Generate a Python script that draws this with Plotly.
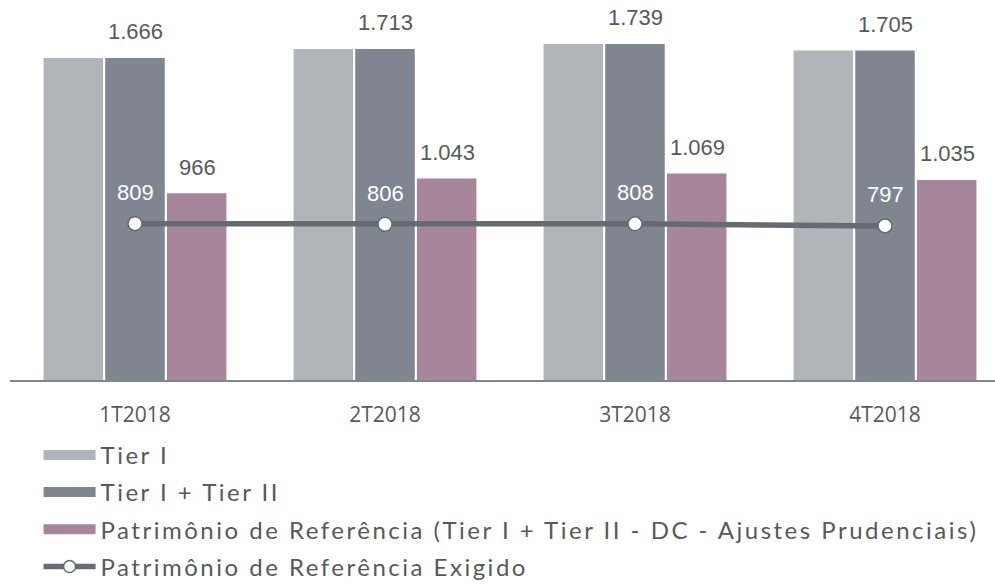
import plotly.graph_objs as go

# Dados (R$ milhões)
trimestres = ['1T2018', '2T2018', '3T2018', '4T2018']
tier1 = [1666, 1713, 1739, 1705]
tier1_tier2 = [1666, 1713, 1739, 1705]
pr = [966, 1043, 1069, 1035]
pr_exigido = [809, 806, 808, 797]

nomes = ['Tier I',
         'Tier I + Tier II',
         'Patrimônio de Referência (Tier I + Tier II - DC - Ajustes Prudenciais)',
         'Patrimônio de Referência Exigido']
cores = ['#B1B5B9', '#7F868F', '#A7869C', '#646B72']

label_font = dict(family='Liberation Sans, Arial', size=22, color='#595959')

fig = go.Figure()
fig.add_trace(go.Bar(x=trimestres, y=tier1, name=nomes[0], showlegend=False,
                     marker=dict(color=cores[0], line=dict(width=0))))
fig.add_trace(go.Bar(x=trimestres, y=tier1_tier2, name=nomes[1], showlegend=False,
                     marker=dict(color=cores[1], line=dict(width=0))))
fig.add_trace(go.Bar(x=trimestres, y=pr, name=nomes[2], showlegend=False,
                     marker=dict(color=cores[2], line=dict(width=0))))
fig.add_trace(go.Scatter(x=trimestres, y=pr_exigido, name=nomes[3], showlegend=False,
                         mode='lines+markers',
                         line=dict(color=cores[3], width=5.5),
                         marker=dict(size=14, color='white', line=dict(color=cores[3], width=1.5))))

# Rótulos de valores
fmt = lambda v: f'{v:,}'.replace(',', '.')
for cat, v in zip(trimestres, tier1_tier2):
    fig.add_annotation(x=cat, y=v, text=fmt(v), showarrow=False, yshift=26, font=label_font)
for cat, v in zip(trimestres, pr):
    fig.add_annotation(x=cat, y=v, text=fmt(v), showarrow=False, yshift=26, xshift=62.5, font=label_font)
for cat, v in zip(trimestres, pr_exigido):
    fig.add_annotation(x=cat, y=v, text=fmt(v), showarrow=False, yshift=31,
                       font=dict(family='Liberation Sans, Arial', size=22, color='white'))

# Legenda com retângulos largos
for i, nome in enumerate(nomes[:3]):
    fig.add_trace(go.Scatter(x=[None], y=[None], mode='lines', name=nome,
                             line=dict(color=cores[i], width=12), legendgroup=str(i)))
fig.add_trace(go.Scatter(x=[None], y=[None], mode='lines+markers', name=nomes[3],
                         line=dict(color=cores[3], width=5.5),
                         marker=dict(size=12, color='white', line=dict(color=cores[3], width=1.5)),
                         legendgroup='3'))

fig.update_layout(
    width=995, height=586,
    margin=dict(l=10, r=0, t=0, b=206, autoexpand=False),
    plot_bgcolor='white', paper_bgcolor='white',
    barmode='group', bargap=0.26, bargroupgap=0.035,
    hovermode=False,
    xaxis=dict(range=[-0.5, 3.44], showline=True, linecolor='#7F868F', linewidth=1.5,
               showgrid=False, ticks='', ticklabelstandoff=15,
               tickfont=dict(family='Open Sans', size=21, color='#595959')),
    yaxis=dict(range=[0, 1966], visible=False),
    legend=dict(x=0.029, xanchor='left', y=-0.139, yanchor='top',
                orientation='v', itemwidth=52, tracegroupgap=3,
                bgcolor='rgba(0,0,0,0)',
                font=dict(family='Lato', size=24, color='#595959')),
    showlegend=True,
)

fig.write_html('out.html', config={'displayModeBar': False},
               post_script="var s=document.createElement('style');"
                           "s.textContent='body{margin:0}"
                           ".legendtext{letter-spacing:2.5px}"
                           ".legend .scrollbox{clip-path:none!important}';"
                           "document.head.appendChild(s);")
